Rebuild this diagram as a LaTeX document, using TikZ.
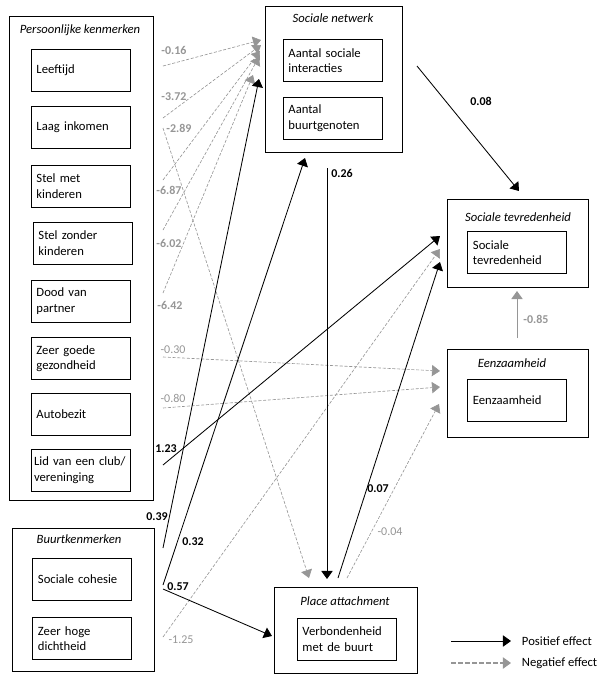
\documentclass[tikz,border=0pt]{standalone}
\usepackage{fontspec}
\setmainfont{Carlito}
\usepackage{tikz}
\usetikzlibrary{arrows.meta, positioning}
\usepackage{xcolor}
\definecolor{negcol}{RGB}{150,150,150}
\tikzset{%
	groupbox/.style={
		draw,
		line width=0.6pt,
		inner sep=0pt
	},
	grouptitle/.style={
		font=\fontsize{9}{11}\selectfont\itshape,
		inner sep=1pt
	},
	itembox/.style={
		draw,
		line width=0.6pt,
		text width=2.2cm,
		inner xsep=0.1375cm,
		minimum height=1.05cm,
		align=left,
		font=\fontsize{9}{11}\selectfont
	},
	poseffect/.style={
		draw=black,
		line width=0.6pt,
		-{Triangle[length=5.7pt,width=8pt]}
	},
	negeffect/.style={
		draw=negcol,
		line width=0.45pt,
		dash pattern=on 2.2pt off 1.2pt,
		-{Triangle[length=5.7pt,width=8pt]}
	},
	poslab/.style={
		font=\fontsize{8.5}{10}\selectfont\bfseries,
		inner sep=0pt
	},
	neglab/.style={
		poslab,
		text=negcol
	},
}

\begin{document}
\begin{tikzpicture}[
				x=0.025cm, y=-0.025cm,
				legtext/.style={anchor=west, font=\fontsize{9}{11}\selectfont}
				]
				\useasboundingbox (0,0) rectangle (601,680);
				
				% persoonlijke kenmerken
				\node[groupbox, minimum width=3.6cm, minimum height=12.1cm] (pk) at (81,258) {};
				\node[grouptitle] (pktitle) at (80,30) {Persoonlijke kenmerken};
				\node[itembox] (leeftijd) at (80.5,70) {Leeftijd};
				\node[itembox] (inkomen) at (80.5,127.5) {Laag inkomen};
				\node[itembox] (stelmet) at (80.5,186) {Stel met\\kinderen};
				\node[itembox] (stelzonder) at (82.5,243) {Stel zonder\\kinderen};
				\node[itembox] (partner) at (80.5,301) {Dood van\\partner};
				\node[itembox] (gezond) at (80.5,358.5) {Zeer goede\\gezondheid};
				\node[itembox] (auto) at (80.5,414) {Autobezit};
				\node[itembox, text width=2.32cm, inner xsep=0.0775cm] (club) at (80.5,470) {Lid van een club/\\vereninging};
				
				% buurtkenmerken
				\node[groupbox, minimum width=3.55cm, minimum height=3.575cm] (bk) at (83,599.5) {};
				\node[grouptitle] (bktitle) at (79,539) {Buurtkenmerken};
				\node[itembox] (cohesie) at (82,579) {Sociale cohesie};
				\node[itembox] (dichtheid) at (82,638.5) {Zeer hoge\\dichtheid};
				
				% sociale netwerk
				\node[groupbox, minimum width=3.425cm, minimum height=3.65cm] (sn) at (333.5,79) {};
				\node[grouptitle] (sntitle) at (333,18) {Sociale netwerk};
				\node[itembox] (interacties) at (332.5,60.5) {Aantal sociale\\interacties};
				\node[itembox] (buurtgenoten) at (332.5,118) {Aantal\\buurtgenoten};
				
				% sociale tevredenheid
				\node[groupbox, minimum width=3.525cm, minimum height=2.2cm] (st) at (517.5,243) {};
				\node[grouptitle] (sttitle) at (518,217) {Sociale tevredenheid};
				\node[itembox] (tevreden) at (517,252.5) {Sociale\\tevredenheid};
				
				% eenzaamheid
				\node[groupbox, minimum width=3.525cm, minimum height=2.2cm] (ez) at (517.5,393) {};
				\node[grouptitle] (eztitle) at (512,363) {Eenzaamheid};
				\node[itembox] (eenzaam) at (517,400.5) {Eenzaamheid};
				
				% place attachment
				\node[groupbox, minimum width=3.575cm, minimum height=2.15cm] (pa) at (345.5,630) {};
				\node[grouptitle] (patitle) at (345,601) {Place attachment};
				\node[itembox] (verbonden) at (346.5,639) {Verbondenheid\\met de buurt};
				
				% begin- en eindpunten van de pijlen
				\coordinate (s016) at (163,66);   \coordinate (e016) at (261,40);
				\coordinate (s372) at (163,118);  \coordinate (e372) at (261,45);
				\coordinate (s289) at (163,128);  \coordinate (e289) at (309,578);
				\coordinate (s687) at (163,180);  \coordinate (e687) at (260,51);
				\coordinate (s602) at (163,230);  \coordinate (e602) at (259,57);
				\coordinate (s642) at (163,293);  \coordinate (e642) at (253,75);
				\coordinate (s030) at (163,357);  \coordinate (e030) at (440,371);
				\coordinate (s080) at (163,408);  \coordinate (e080) at (440,387);
				\coordinate (s125) at (163,637);  \coordinate (e125) at (440,249);
				\coordinate (s004) at (347,578);  \coordinate (e004) at (439,404);
				\coordinate (s085) at (517,338);  \coordinate (e085) at (517,291);
				\coordinate (s123) at (163,465);  \coordinate (e123) at (440,236);
				\coordinate (s039) at (163,548);  \coordinate (e039) at (259,79);
				\coordinate (s032) at (163,585);  \coordinate (e032) at (305,158);
				\coordinate (s057) at (163,589);  \coordinate (e057) at (272,636);
				\coordinate (s026) at (327,168);  \coordinate (e026) at (327,579);
				\coordinate (s008) at (417,66);   \coordinate (e008) at (519,191);
				\coordinate (s007) at (338,578);  \coordinate (e007) at (440,262);
				
				% negatieve effecten
				\draw[negeffect] (s016) -- (e016);
				\draw[negeffect] (s372) -- (e372);
				\draw[negeffect] (s289) -- (e289);
				\draw[negeffect] (s687) -- (e687);
				\draw[negeffect] (s602) -- (e602);
				\draw[negeffect] (s642) -- (e642);
				\draw[negeffect] (s030) -- (e030);
				\draw[negeffect] (s080) -- (e080);
				\draw[negeffect] (s125) -- (e125);
				\draw[negeffect] (s004) -- (e004);
				\draw[negeffect, solid, line width=0.6pt] (s085) -- (e085);
				
				% positieve effecten
				\draw[poseffect] (s123) -- (e123);
				\draw[poseffect] (s039) -- (e039);
				\draw[poseffect] (s032) -- (e032);
				\draw[poseffect] (s057) -- (e057);
				\draw[poseffect] (s026) -- (e026);
				\draw[poseffect] (s008) -- (e008);
				\draw[poseffect] (s007) -- (e007);
				
				% coefficienten
				\node[neglab] (l016) at (174,50) {-0.16};
				\node[neglab] (l372) at (174,97) {-3.72};
				\node[neglab] (l289) at (179,128) {-2.89};
				\node[neglab] (l687) at (169,190) {-6.87};
				\node[neglab] (l602) at (169,243) {-6.02};
				\node[neglab] (l642) at (170,305) {-6.42};
				\node[neglab, font=\fontsize{8.5}{10}\selectfont] (l030) at (173,350) {-0.30};
				\node[neglab, font=\fontsize{8.5}{10}\selectfont] (l080) at (173,398) {-0.80};
				\node[neglab, font=\fontsize{8.5}{10}\selectfont] (l125) at (181,640) {-1.25};
				\node[neglab, font=\fontsize{8.5}{10}\selectfont] (l004) at (390,532) {-0.04};
				\node[neglab] (l085) at (536,319) {-0.85};
				\node[poslab] (l123) at (166,449) {1.23};
				\node[poslab] (l039) at (157,517) {0.39};
				\node[poslab] (l032) at (193,542) {0.32};
				\node[poslab] (l057) at (178,587) {0.57};
				\node[poslab] (l026) at (342,173) {0.26};
				\node[poslab] (l008) at (481,101) {0.08};
				\node[poslab] (l007) at (378,489) {0.07};
				
				% legenda
				\coordinate (legpos0) at (451,641); \coordinate (legpos1) at (511,641);
				\coordinate (legneg0) at (451,663); \coordinate (legneg1) at (511,663);
				\draw[poseffect] (legpos0) -- (legpos1);
				\draw[negeffect, line width=0.8pt, dash pattern=on 3.5pt off 1.5pt] (legneg0) -- (legneg1);
				\node[legtext] (legpostext) at (517,641) {Positief effect};
				\node[legtext] (legnegtext) at (517,663) {Negatief effect};
				
			\end{tikzpicture}
\end{document}
